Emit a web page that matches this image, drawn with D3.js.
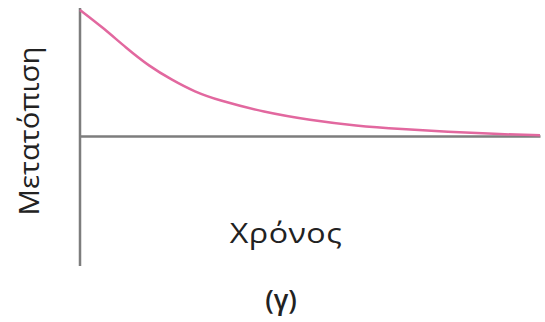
<!DOCTYPE html>
<html><head><meta charset="utf-8">
<script src="https://cdn.jsdelivr.net/npm/d3@7"></script>
<style>body{margin:0;background:#fff}svg{display:block}</style>
</head><body>
<svg id="c" width="545" height="322"></svg>
<script>
// Data (arbitrary units): time and displacement of an overdamped decay
const time = [0, 0.5, 1, 1.5, 2, 2.5, 3, 4, 5, 6, 7, 8, 9, 10];
const displacement = [1.0, 0.86, 0.70, 0.555, 0.445, 0.35, 0.285, 0.19, 0.127, 0.082, 0.055, 0.033, 0.017, 0.006];
const xLabel = "Χρόνος";
const yLabel = "Μετατόπιση";
const caption = "(γ)";

const svg = d3.select("#c");
const x = d3.scaleLinear().domain([0, 10]).range([80, 540]);
const y = d3.scaleLinear().domain([-1.03, 1]).range([266, 10]);

const axisColor = "#7d7d7d";
// y axis (no ticks)
svg.append("g").attr("transform", `translate(${x(0)},0)`)
  .call(d3.axisLeft(y).tickValues([]).tickSizeOuter(0))
  .call(g => g.select(".domain").attr("stroke", axisColor).attr("stroke-width", 2.5)
    .attr("d", `M0,${y(1)-2}V${y(-1.03)}`));
// x axis at displacement 0
svg.append("g").attr("transform", `translate(0,${y(0)})`)
  .call(d3.axisBottom(x).tickValues([]).tickSizeOuter(0))
  .call(g => g.select(".domain").attr("stroke", axisColor).attr("stroke-width", 2.5));

const line = d3.line().x((d, i) => x(time[i])).y(d => y(d)).curve(d3.curveBasis);
svg.append("path").datum(displacement).attr("d", line)
  .attr("fill", "none").attr("stroke", "#e2689f").attr("stroke-width", 2.5);

const font = "'Open Sans', sans-serif";
const textColor = "#222";
svg.append("text").attr("transform", "translate(286,243) scale(1.15,1)").attr("text-anchor", "middle")
  .attr("font-family", font).attr("font-size", 28).attr("letter-spacing", 0.4)
  .attr("fill", textColor).text(xLabel);
svg.append("text").attr("transform", "translate(39,131) rotate(-90) scale(1.05,1)").attr("text-anchor", "middle")
  .attr("font-family", font).attr("font-size", 28)
  .attr("fill", textColor).text(yLabel);
svg.append("text").attr("x", 281).attr("y", 309).attr("text-anchor", "middle")
  .attr("font-family", font).attr("font-size", 27).attr("font-weight", 600)
  .attr("fill", textColor).text(caption);
</script>
</body></html>
